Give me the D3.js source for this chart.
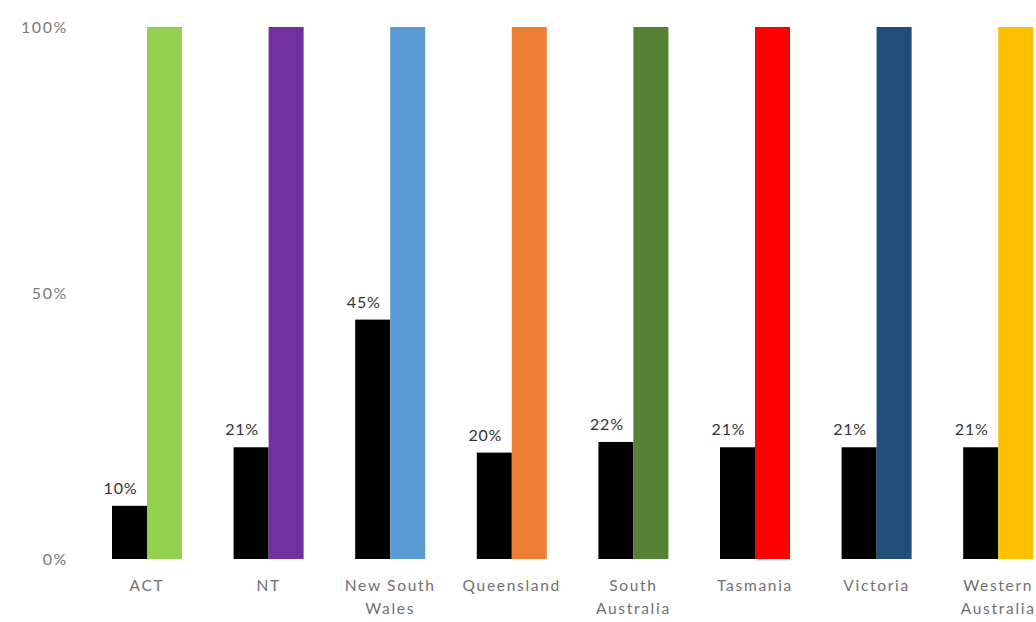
<!DOCTYPE html>
<html><head><meta charset="utf-8">
<script src="https://cdn.jsdelivr.net/npm/d3@7"></script>
<style>body{margin:0;background:#fff;} svg{display:block;}</style>
</head><body>
<svg id="c" width="1036" height="622"></svg>
<script>
const categories = ["ACT","NT","New South Wales","Queensland","South Australia","Tasmania","Victoria","Western Australia"];
const categoryLines = [["ACT"],["NT"],["New South","Wales"],["Queensland"],["South","Australia"],["Tasmania"],["Victoria"],["Western","Australia"]];
const shareValues = [10,21,45,20,22,21,21,21];
const totalValues = [100,100,100,100,100,100,100,100];
const stateColors = ["#92D050","#7030A0","#5B9BD5","#ED7D31","#548235","#FF0000","#1F4E79","#FFC000"];
const yTicks = [0,50,100];

const svg = d3.select("#c");
const font = "Lato, 'Open Sans', sans-serif";
const y = d3.scaleLinear().domain([0,100]).range([559,27]);
const x = d3.scaleBand().domain(categories).range([86.2, 86.2+8*121.6]).padding(0);
const barW = 35;

// y tick labels
svg.append("g").selectAll("text").data(yTicks).join("text")
  .attr("x",68).attr("y",d=>y(d)+6).attr("text-anchor","end")
  .attr("font-family",font).attr("font-size",16).attr("letter-spacing",1.6).attr("fill","#7a7a7a")
  .text(d=>d+"%");

const g = svg.append("g");
categories.forEach((c,i)=>{
  const cx = x(c)+x.bandwidth()/2;
  g.append("rect").attr("x",cx-barW).attr("width",barW)
    .attr("y",y(shareValues[i])).attr("height",y(0)-y(shareValues[i])).attr("fill","#000");
  g.append("rect").attr("x",cx).attr("width",barW)
    .attr("y",y(totalValues[i])).attr("height",y(0)-y(totalValues[i])).attr("fill",stateColors[i]);
  g.append("text").attr("x",cx-barW/2-9).attr("y",y(shareValues[i])-12)
    .attr("text-anchor","middle").attr("font-family",font).attr("font-size",16)
    .attr("letter-spacing",0.8).attr("fill","#333")
    .text(shareValues[i]+"%");
  const t = g.append("text").attr("text-anchor","middle").attr("font-family",font)
    .attr("font-size",15.5).attr("letter-spacing",1.7).attr("fill","#707070");
  categoryLines[i].forEach((ln,j)=>{
    t.append("tspan").attr("x",cx).attr("y",591+j*23).text(ln);
  });
});
</script>
</body></html>
